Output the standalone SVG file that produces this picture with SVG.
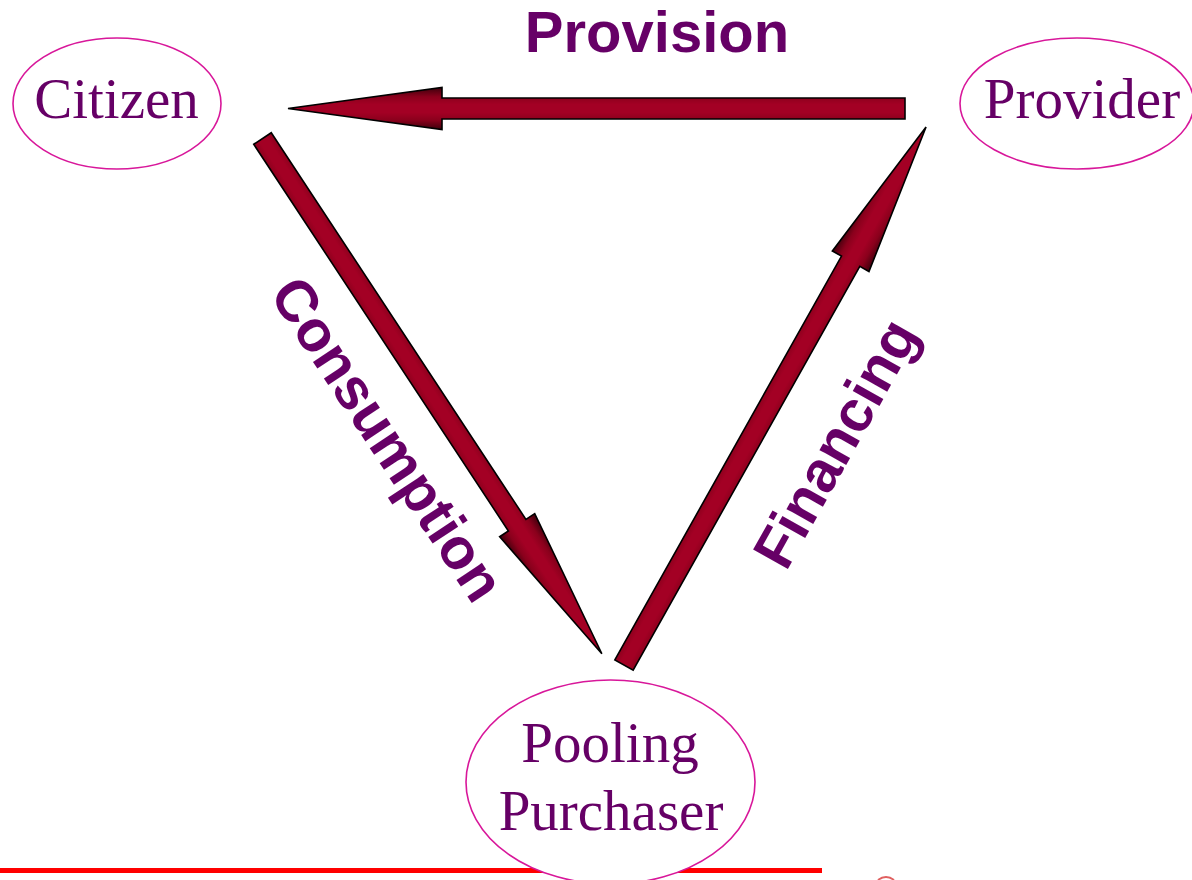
<svg xmlns="http://www.w3.org/2000/svg" xmlns:xlink="http://www.w3.org/1999/xlink" width="1192" height="880" viewBox="0 0 1192 880">
<style>
.node ellipse{fill:#ffffff;stroke:#d8179a;stroke-width:1.6}
.node text{font-family:"Liberation Serif","Times New Roman",serif;font-size:57px;fill:#660066;text-anchor:middle}
.lbl{font-family:"Liberation Sans",Arial,sans-serif;font-weight:bold;font-size:58px;fill:#660066;text-anchor:middle}
.arrow{fill:url(#ag);stroke:#000000;stroke-width:1.6;stroke-linejoin:miter}
</style>
<defs>
<linearGradient id="ag" gradientUnits="userSpaceOnUse" x1="0" y1="-21" x2="0" y2="21">
<stop offset="0" stop-color="#3e000c"/>
<stop offset="0.22" stop-color="#8a001c"/>
<stop offset="0.4" stop-color="#a30024"/>
<stop offset="0.6" stop-color="#a30024"/>
<stop offset="0.78" stop-color="#8a001c"/>
<stop offset="1" stop-color="#3e000c"/>
</linearGradient>
<path id="arr" d="M0,-10.5 H463 V-21 L617,0 L463,21 V10.5 H0 Z"/>
</defs>
<rect width="1192" height="880" fill="#ffffff"/>
<line x1="0" y1="870.5" x2="822" y2="870.5" stroke="#ff0000" stroke-width="5"/>
<path d="M878,880 Q886,874 894,880" fill="none" stroke="#e06060" stroke-width="2"/>
<g id="connectors">
<use xlink:href="#arr" class="arrow" transform="translate(905,108.5) rotate(180)"/>
<use xlink:href="#arr" class="arrow" transform="translate(262.5,138.5) rotate(56.63)"/>
<use xlink:href="#arr" class="arrow" transform="translate(624,665) rotate(-60.69)"/>
<text class="lbl" x="657" y="52">Provision</text>
<text class="lbl" transform="translate(371,450) rotate(56.63)">Consumption</text>
<text class="lbl" transform="translate(853,453) rotate(-60.69)">Financing</text>
</g>
<g id="citizen" class="node">
<ellipse cx="117" cy="103.5" rx="104" ry="65.5"/>
<text x="116.5" y="118">Citizen</text>
</g>
<g id="provider" class="node">
<ellipse cx="1077" cy="103.5" rx="117" ry="65.5"/>
<text x="1082" y="118">Provider</text>
</g>
<g id="pooling-purchaser" class="node">
<ellipse cx="610.5" cy="782" rx="144.5" ry="102"/>
<text x="610" y="762">Pooling</text>
<text x="611" y="830">Purchaser</text>
</g>
</svg>
